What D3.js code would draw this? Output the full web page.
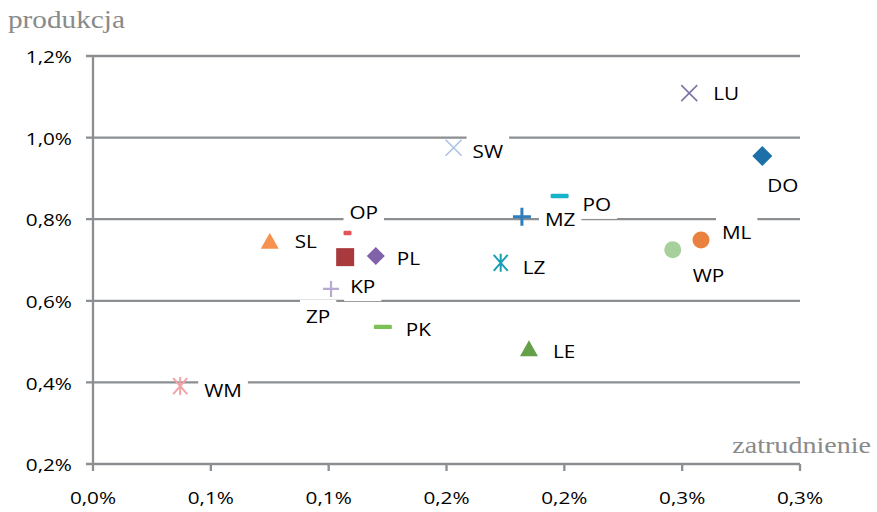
<!DOCTYPE html>
<html><head><meta charset="utf-8">
<script src="https://cdn.jsdelivr.net/npm/d3@7"></script>
<style>
body{margin:0;background:#fff;}
svg{display:block;}
</style></head>
<body>
<svg id="chart" width="877" height="512"></svg>
<script>
// ---- data ----
const names = ["LU","SW","DO","PO","MZ","ML","WP","OP","SL","KP","PL","ZP","LZ","PK","LE","WM"];
const xVals = [0.253,0.153,0.284,0.198,0.182,0.258,0.246,0.108,0.075,0.107,0.120,0.101,0.173,0.123,0.185,0.037];
const yVals = [1.109,0.975,0.955,0.857,0.806,0.749,0.725,0.766,0.747,0.707,0.710,0.629,0.693,0.536,0.484,0.391];
const xTickValues = [0,0.05,0.1,0.15,0.2,0.25,0.3];
const xTickLabels = ["0,0%","0,1%","0,1%","0,2%","0,2%","0,3%","0,3%"];
const yTickValues = [0.2,0.4,0.6,0.8,1.0,1.2];
const yTickLabels = ["0,2%","0,4%","0,6%","0,8%","1,0%","1,2%"];

// ---- styling / layout ----
const markerStyle = {
  LU:{shape:"x",color:"#7f74a8"}, SW:{shape:"x",color:"#a9c3e0"},
  DO:{shape:"diamond",color:"#1d6fa8",s:10}, PO:{shape:"dash",color:"#17b3c9",w:18},
  MZ:{shape:"plus",color:"#2e7dbd",sw:3,s:9}, ML:{shape:"circle",color:"#e8823e"},
  WP:{shape:"circle",color:"#a8d09c"}, OP:{shape:"dash",color:"#e05658",w:8},
  SL:{shape:"tri",color:"#f79150"}, KP:{shape:"square",color:"#a83a3d"},
  PL:{shape:"diamond",color:"#8062aa",s:9}, ZP:{shape:"plus",color:"#b8a9d3",sw:2.2,s:8},
  LZ:{shape:"star",color:"#1a9eb4"}, PK:{shape:"dash",color:"#7cc156",w:18},
  LE:{shape:"tri",color:"#64a04a"}, WM:{shape:"star",color:"#f2a3a6"}
};
const labelOffset = {
  LU:[24,0], SW:[19,3], DO:[5,29], PO:[23,8], MZ:[23,2], ML:[21,-8], WP:[20,25],
  OP:[2,-21], SL:[25,0], KP:[5,29], PL:[21,2], ZP:[-25,27], LZ:[22,4], PK:[23,2],
  LE:[24,3], WM:[24,4]
};

const svg = d3.select("#chart");
const x = d3.scaleLinear().domain([0,0.3]).range([93,800]);
const y = d3.scaleLinear().domain([0.2,1.2]).range([464,56]);
const gridColor = "#8b8f92";
const SX = 1.15;
const sansFont = "'Open Sans', sans-serif";

function stretchedText(g, px, py, str, opts){
  const t = g.append("g").attr("transform", `translate(${px},${py}) scale(${opts.sx||SX},1)`);
  const txt = t.append("text").attr("x",0).attr("y",0)
    .attr("font-family", opts.family || sansFont)
    .attr("font-size", opts.size || 18)
    .attr("font-weight", opts.weight || 400)
    .attr("fill", opts.fill || "#000")
    .attr("text-anchor", opts.anchor || "start")
    .attr("dominant-baseline", opts.baseline || "central")
    .text(str);
  return {g:t, txt};
}

// gridlines
const grid = svg.append("g");
yTickValues.forEach(v => {
  grid.append("line").attr("x1",86).attr("x2",800).attr("y1",y(v)).attr("y2",y(v))
    .attr("stroke",gridColor).attr("stroke-width",2.3);
});
// y axis line
grid.append("line").attr("x1",x(0)).attr("x2",x(0)).attr("y1",y(1.2)).attr("y2",y(0.2))
  .attr("stroke",gridColor).attr("stroke-width",2.3);
// x ticks
xTickValues.forEach(v => {
  grid.append("line").attr("x1",x(v)).attr("x2",x(v)).attr("y1",y(0.2)).attr("y2",y(0.2)+7)
    .attr("stroke",gridColor).attr("stroke-width",2.3);
});

// tick labels
const tl = svg.append("g");
yTickValues.forEach((v,i) => stretchedText(tl, 72, y(v)+1, yTickLabels[i], {anchor:"end", size:17, sx:1.22}));
xTickValues.forEach((v,i) => stretchedText(tl, x(v), 498, xTickLabels[i], {anchor:"middle", size:17, sx:1.22}));

// axis titles
stretchedText(svg, 8, 28, "produkcja", {family:"'Liberation Serif', serif", size:25, fill:"#8a8a8a", baseline:"alphabetic", sx:1.17});
stretchedText(svg, 871, 453, "zatrudnienie", {family:"'Liberation Serif', serif", size:24, fill:"#8a8a8a", baseline:"alphabetic", anchor:"end", sx:1.17});

// markers
const mk = svg.append("g");
names.forEach((n,i) => {
  const cx = x(xVals[i]), cy = y(yVals[i]);
  const st = markerStyle[n];
  const g = mk.append("g").attr("transform",`translate(${cx},${cy})`);
  if (st.shape === "x") {
    g.append("path").attr("d","M-8,-8L8,8M-8,8L8,-8").attr("stroke",st.color).attr("stroke-width",1.6).attr("fill","none");
  } else if (st.shape === "star") {
    g.append("path").attr("d","M-7,-8L7,8M-7,8L7,-8M0,-9L0,9").attr("stroke",st.color).attr("stroke-width",2).attr("fill","none");
  } else if (st.shape === "plus") {
    const s = st.s;
    g.append("path").attr("d",`M${-s},0L${s},0M0,${-s}L0,${s}`).attr("stroke",st.color).attr("stroke-width",st.sw).attr("fill","none");
  } else if (st.shape === "diamond") {
    const s = st.s;
    g.append("path").attr("d",`M0,${-s}L${s},0L0,${s}L${-s},0Z`).attr("fill",st.color);
  } else if (st.shape === "dash") {
    g.append("rect").attr("x",-st.w/2).attr("y",-2.2).attr("width",st.w).attr("height",4.4).attr("rx",1.2).attr("fill",st.color);
  } else if (st.shape === "circle") {
    g.append("circle").attr("r",8.5).attr("fill",st.color);
  } else if (st.shape === "tri") {
    g.append("path").attr("d","M0,-8L9,8L-9,8Z").attr("fill",st.color);
  } else if (st.shape === "square") {
    g.append("rect").attr("x",-9).attr("y",-9).attr("width",18).attr("height",18).attr("fill",st.color);
  }
});

// labels with white background
const lb = svg.append("g");
names.forEach((n,i) => {
  const cx = x(xVals[i]), cy = y(yVals[i]);
  const [dx,dy] = labelOffset[n];
  const px = cx+dx, py = cy+dy;
  const bgG = lb.append("g");
  const {txt} = stretchedText(lb, px, py, n, {size:18});
  const bb = txt.node().getBBox();
  const w = bb.width*SX;
  bgG.append("rect").attr("x",px-6).attr("y",py-16).attr("width",w+12).attr("height",31).attr("fill","#fff");
});
</script>
</body></html>
